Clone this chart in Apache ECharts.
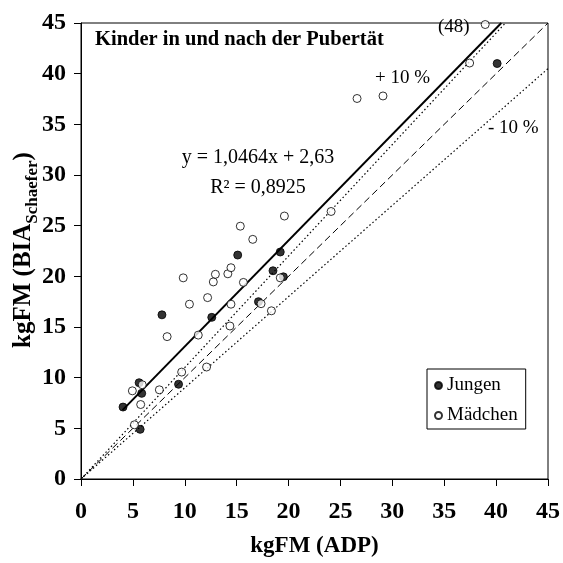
<!DOCTYPE html>
<html>
<head>
<meta charset="utf-8">
<script src="https://cdn.jsdelivr.net/npm/echarts@6/dist/echarts.min.js"></script>
<style>
html,body{margin:0;padding:0;background:#fff;}
#c{width:563px;height:563px;}
</style>
</head>
<body>
<div id="c"></div>
<script>
// ---- data ----
var xTicks = [0, 5, 10, 15, 20, 25, 30, 35, 40, 45];
var yTicks = [0, 5, 10, 15, 20, 25, 30, 35, 40, 45];

var jungen = [
  [4.05, 7.1], [5.7, 4.9], [5.85, 8.45], [5.6, 9.5], [7.8, 16.2],
  [9.4, 9.35], [12.6, 15.95], [15.1, 22.1], [17.1, 17.5], [18.5, 20.55],
  [19.2, 22.4], [19.5, 19.95], [40.1, 41.0]
];
var maedchen = [
  [4.95, 8.7], [5.15, 5.35], [5.75, 7.35], [5.9, 9.3], [7.55, 8.8],
  [8.3, 14.05], [9.7, 10.55], [9.85, 19.85], [10.45, 17.25], [11.3, 14.2],
  [12.1, 11.05], [12.2, 17.9], [12.75, 19.45], [12.95, 20.2], [14.15, 20.25],
  [14.35, 15.1], [14.45, 17.25], [14.45, 20.85], [15.35, 24.95], [15.65, 19.4],
  [16.55, 23.65], [17.35, 17.3], [18.35, 16.6], [19.2, 19.85], [19.6, 25.95],
  [24.1, 26.4], [26.6, 37.55], [29.1, 37.8], [37.45, 41.05], [38.95, 44.85]
];
var regressionLine = [[4.0, 6.8], [40.5, 45.0]];
var plus10Line = [[0, 0], [40.9, 45]];
var identityLine = [[0, 0], [45, 45]];
var minus10Line = [[0, 0], [45, 40.5]];

var titleText = 'Kinder in und nach der Pubertät';
var eqText = 'y = 1,0464x + 2,63';
var r2Text = 'R² = 0,8925';
var plusLabel = '+ 10 %';
var minusLabel = '- 10 %';
var countLabel = '(48)';
var xName = 'kgFM (ADP)';
var seriesNames = ['Jungen', 'Mädchen'];

var FONT = '"Liberation Serif", "Times New Roman", serif';

var chart = echarts.init(document.getElementById('c'), null, {renderer: 'canvas'});

function axisCommon(ticks) {
  return {
    type: 'value',
    min: ticks[0],
    max: ticks[ticks.length - 1],
    interval: ticks[1] - ticks[0],
    axisLine: {show: true, onZero: false, lineStyle: {color: '#000', width: 1}},
    axisTick: {show: true, inside: false, length: 7, lineStyle: {color: '#000', width: 1}},
    splitLine: {show: false},
    axisLabel: {
      color: '#000', fontFamily: FONT, fontWeight: 'bold', fontSize: 24,
      showMinLabel: true, showMaxLabel: true
    }
  };
}

var xAxis = axisCommon(xTicks);
xAxis.axisLabel.margin = 21;
xAxis.name = xName;
xAxis.nameLocation = 'middle';
xAxis.nameGap = 56;
xAxis.nameTextStyle = {color: '#000', fontFamily: FONT, fontWeight: 'bold', fontSize: 23, verticalAlign: 'top'};

var yAxis = axisCommon(yTicks);
yAxis.axisLabel.margin = 15;

function lineSeries(data, width, type) {
  return {
    type: 'line',
    data: data,
    symbol: 'none',
    silent: true,
    lineStyle: {color: '#000', width: width, type: type},
    z: 1
  };
}

var option = {
  animation: false,
  backgroundColor: '#fff',
  grid: {
    left: 81, right: 12, top: 23, bottom: 80,
    show: true, borderColor: '#000', borderWidth: 1, backgroundColor: 'transparent'
  },
  xAxis: xAxis,
  yAxis: yAxis,
  legend: {
    orient: 'vertical',
    left: 427, top: 369,
    width: 101,
    padding: [7, 8, 4, 7],
    itemGap: 11,
    itemWidth: 7, itemHeight: 7,
    borderColor: '#000', borderWidth: 1,
    backgroundColor: '#fff',
    textStyle: {color: '#000', fontFamily: FONT, fontSize: 19, padding: [0, 0, 0, 0]},
    data: [
      {name: seriesNames[0], icon: 'circle'},
      {name: seriesNames[1], icon: 'circle'}
    ]
  },
  graphic: [
    {type: 'text', left: 95, top: 29, z: 10,
     style: {text: titleText, fill: '#000', font: 'bold 20.5px ' + FONT}},
    {type: 'text', x: 258, y: 158, z: 10,
     style: {text: eqText, fill: '#000', font: '20px ' + FONT, align: 'center', verticalAlign: 'middle'}},
    {type: 'text', x: 258, y: 188, z: 10,
     style: {text: r2Text, fill: '#000', font: '20px ' + FONT, align: 'center', verticalAlign: 'middle'}},
    {type: 'text', x: 375, y: 78, z: 10,
     style: {text: plusLabel, fill: '#000', font: '19px ' + FONT, align: 'left', verticalAlign: 'middle'}},
    {type: 'text', x: 488, y: 128, z: 10,
     style: {text: minusLabel, fill: '#000', font: '19px ' + FONT, align: 'left', verticalAlign: 'middle'}},
    {type: 'text', x: 438, y: 27, z: 10,
     style: {text: countLabel, fill: '#000', font: '19px ' + FONT, align: 'left', verticalAlign: 'middle'}},
    {type: 'text', x: 24, y: 250, rotation: Math.PI / 2, z: 10,
     style: {
       text: '{m|kgFM (BIA}{s|Schaefer}{m|)}',
       align: 'center', verticalAlign: 'middle',
       rich: {
         m: {fontFamily: FONT, fontWeight: 'bold', fontSize: 25, lineHeight: 34, verticalAlign: 'middle', fill: '#000', color: '#000'},
         s: {fontFamily: FONT, fontWeight: 'bold', fontSize: 17, lineHeight: 34, verticalAlign: 'bottom', fill: '#000', color: '#000'}
       }
     }}
  ],
  series: [
    lineSeries(regressionLine, 2, 'solid'),
    lineSeries(plus10Line, 1.2, [1.5, 2.5]),
    lineSeries(identityLine, 1, [7, 4]),
    lineSeries(minus10Line, 1.2, [1.5, 2.5]),
    {
      name: seriesNames[0], type: 'scatter', data: jungen,
      symbol: 'circle', symbolSize: 8, z: 5,
      itemStyle: {color: '#000', borderColor: '#000', borderWidth: 1}
    },
    {
      name: seriesNames[1], type: 'scatter', data: maedchen,
      symbol: 'circle', symbolSize: 8, z: 5,
      itemStyle: {color: '#fff', borderColor: '#000', borderWidth: 1}
    }
  ]
};
chart.setOption(option);
</script>
</body>
</html>
